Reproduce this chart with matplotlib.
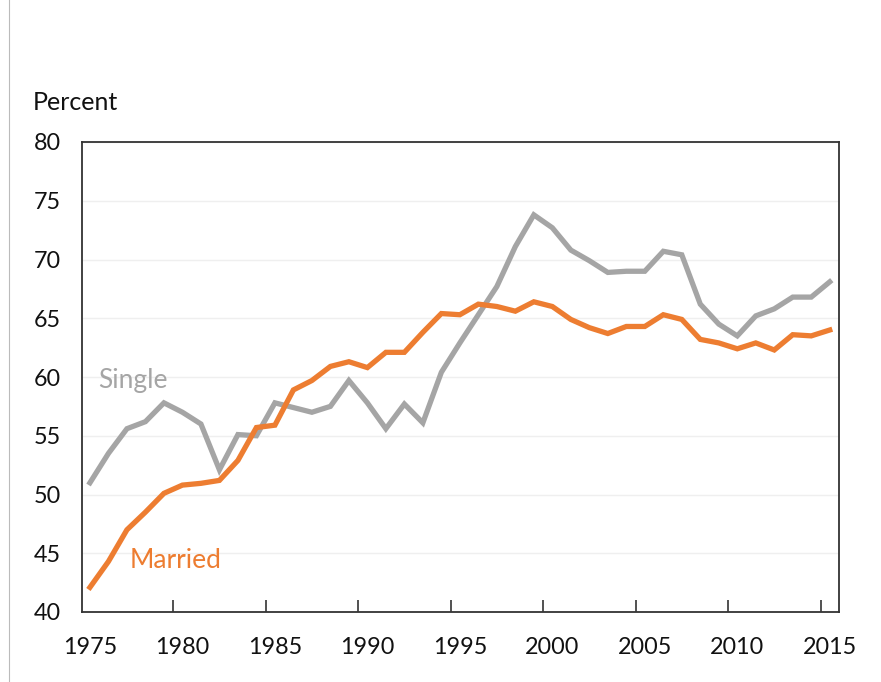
import matplotlib
matplotlib.use("Agg")
import matplotlib.pyplot as plt
from matplotlib.lines import Line2D
import numpy as np

plt.rcParams["font.family"] = ["Lato", "DejaVu Sans"]

# Data
years = list(range(1975, 2016))
single = [51.0, 53.5, 55.6, 56.2, 57.8, 57.0, 56.0, 52.1, 55.1, 55.0,
          57.8, 57.4, 57.0, 57.5, 59.7, 57.8, 55.6, 57.7, 56.1, 60.4,
          62.9, 65.3, 67.7, 71.1, 73.8, 72.7, 70.8, 69.9, 68.9, 69.0,
          69.0, 70.7, 70.4, 66.2, 64.5, 63.5, 65.2, 65.8, 66.8, 66.8, 68.1]
married = [42.1, 44.3, 47.0, 48.5, 50.1, 50.8, 50.95, 51.2, 52.9, 55.7,
           55.9, 58.9, 59.7, 60.9, 61.3, 60.8, 62.1, 62.1, 63.8, 65.4,
           65.3, 66.2, 66.0, 65.6, 66.4, 66.0, 64.9, 64.2, 63.7, 64.3,
           64.3, 65.3, 64.9, 63.2, 62.9, 62.4, 62.9, 62.3, 63.6, 63.5, 64.0]
label_years = [1975, 1980, 1985, 1990, 1995, 2000, 2005, 2010, 2015]
y_ticks = [40, 45, 50, 55, 60, 65, 70, 75, 80]

gray = "#A5A5A5"
orange = "#ED7D31"

fig = plt.figure(figsize=(8.81, 6.82), dpi=100)
ax = fig.add_axes([82 / 881, 1 - 612 / 682, (839 - 82) / 881, (612 - 142) / 682])

ax.plot(years, single, color=gray, lw=3.8, solid_joinstyle="miter", zorder=3)
ax.plot(years, married, color=orange, lw=3.8, solid_joinstyle="miter", zorder=3)

ax.set_xlim(1974.57, 2015.5)
ax.set_ylim(40, 80)

# y axis: labels only, light gridlines
ax.set_yticks(y_ticks)
ax.tick_params(axis="y", length=0, labelsize=16.8, pad=15, labelcolor="#111111")
ax.grid(axis="y", color="#EFEFEF", lw=1, zorder=0)

# x axis: labels on years, inward ticks between categories
ax.set_xticks(label_years)
ax.tick_params(axis="x", length=0, labelsize=16.8, pad=18, labelcolor="#111111")
ax.set_xticks([y - 0.5 for y in label_years[1:]], minor=True)
ax.tick_params(axis="x", which="minor", direction="in", length=9, width=1.2, color="#333333")

for s in ax.spines.values():
    s.set_color("#333333")
    s.set_linewidth(1.3)

ax.text(1975.43, 59.7, "Single", color=gray, fontsize=19, va="center", ha="left")
ax.text(1977.16, 44.4, "Married", color=orange, fontsize=19, va="center", ha="left")

fig.text(33 / 881, 1 - 102 / 682, "Percent", fontsize=18, va="center", ha="left", color="#111111")

# thin frame line at the left edge
fig.add_artist(Line2D([9 / 881, 9 / 881], [0, 1], transform=fig.transFigure, color="#BBBBBB", lw=0.8))

fig.savefig("out.png", dpi=100)
